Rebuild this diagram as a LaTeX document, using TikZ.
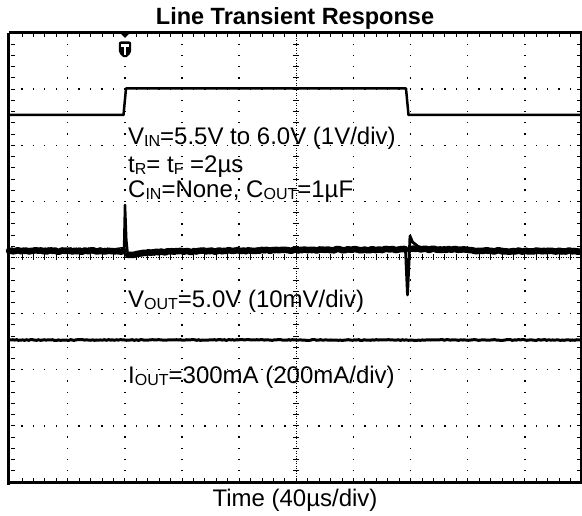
\documentclass[tikz,border=0pt]{standalone}
\usepackage{fontspec}
\setmainfont{Liberation Sans}
\usetikzlibrary{decorations.pathmorphing}
\newcommand\lsub[1]{\raisebox{-2pt}{\fontsize{16}{16}\selectfont #1}}
\begin{document}
\begin{tikzpicture}[x=1pt,y=-1pt,
  lbl/.style={inner sep=0pt,anchor=base west,font=\fontsize{24}{28}\selectfont},
  ttl/.style={inner sep=0pt,anchor=base,font=\fontsize{23.5}{28}\selectfont\bfseries},
  trace/.style={line width=2.5pt,line join=round},
  band/.style={line width=6.5pt,line join=round,line cap=round,decorate,decoration={random steps,segment length=2pt,amplitude=0.7pt}},
  grass/.style={line width=0.7pt,line join=round,decorate,decoration={random steps,segment length=0.9pt,amplitude=3.2pt}},
  tick/.style={line width=0.8pt}]
\pgfmathsetseed{7}
\useasboundingbox (0,0) rectangle (582,516);
\def\L{10.5}\def\R{582}\def\T{33}\def\B{482}
\def\dx{57.15}\def\dy{56.125}
% dotted grid
\foreach \i in {1,2,3,4,6,7,8,9}{
  \foreach \k in {1,...,39}{
    \fill (\L+\i*\dx-0.7,\T+\k*\dy/5-0.7) rectangle ++(1.4,1.4);}}
\foreach \j in {1,2,3,5,6,7}{
  \foreach \k in {1,...,49}{
    \fill (\L+\k*\dx/5-0.7,\T+\j*\dy-0.7) rectangle ++(1.4,1.4);}}
% centre axes
\draw[line width=1pt,dash pattern=on 1pt off 1.5pt] (\L+5*\dx,\T) -- (\L+5*\dx,\B);
\draw[line width=1pt,dash pattern=on 1pt off 1.5pt] (\L,\T+4*\dy) -- (\R,\T+4*\dy);
\foreach \k in {1,...,39}{
  \draw[tick] (\L+5*\dx-3,\T+\k*\dy/5) -- (\L+5*\dx+3,\T+\k*\dy/5);}
\foreach \k in {1,...,49}{
  \draw[tick] (\L+\k*\dx/5,\T+4*\dy-3) -- (\L+\k*\dx/5,\T+4*\dy+3);}
% frame ticks
\foreach \k in {1,...,49}{
  \draw[tick] (\L+\k*\dx/5,\T) -- ++(0,4);
  \draw[tick] (\L+\k*\dx/5,\B) -- ++(0,-4);}
\foreach \k in {1,...,39}{
  \draw[tick] (\L,\T+\k*\dy/5) -- ++(4,0);
  \draw[tick] (\R-1,\T+\k*\dy/5) -- ++(-4,0);}
% frame
\draw[line width=3pt] (8.5,\T) -- (\R,\T);
\draw[line width=3pt] (8.5,\T) -- (8.5,\B+2.5);
\draw[line width=1.5pt] (581,\T) -- (581,\B);
\draw[line width=3.6pt] (7,\B+0.5) -- (\R,\B+0.5);
% trigger marker
\fill (119,32) -- (131,32) -- (125,38) -- cycle;
\fill[rounded corners=2pt] (118.8,41.5) -- (131.2,41.5) -- (131.2,53) -- (125,58.5) -- (118.8,53) -- cycle;
\fill[white] (121,44) rectangle (129,47);
\fill[white] (123.6,47) rectangle (126.4,55);
% VIN trace
\draw[trace] (8.5,115) -- (123.5,115) -- (126,88.5) -- (406,88.5) -- (408.5,115) -- (\R,115);
% VOUT trace
\draw[band] (9,251) -- (123.5,251);
\draw[grass] (9,250.5) -- (123.5,250.5);
\draw[trace] (124,252) -- (125,205) -- (126.3,240) -- (128,257) -- (134,255);
\draw[band] (128,255) -- (145,253) -- (170,251.5) -- (300,250) -- (405.5,249.5);
\draw[grass] (128,255) -- (145,253) -- (170,251.5) -- (300,250) -- (405.5,249.5);
\draw[line width=2.8pt,line join=round] (405.5,250) -- (407.5,295) -- (409,262) -- (410,236) -- (412.5,242) -- (420,248);
\draw[band] (412,249) -- (460,249.5) -- (480,251) -- (\R,251);
\draw[grass] (414,249) -- (460,249.5) -- (480,251) -- (\R,251);
% IOUT trace
\draw[line width=3pt,decorate,decoration={random steps,segment length=2pt,amplitude=0.4pt}] (8.5,340) -- (\R,340);
% texts
\node[ttl] (title) at (295,25) {Line Transient Response};
\node[lbl] (vin) at (128,145) {V\lsub{IN}=5.5V to 6.0V (1V/div)};
\node[lbl] (tr) at (128,173) {t\lsub{R}= t\lsub{F} =2µs};
\node[lbl] (cin) at (128,198) {C\lsub{IN}=None, C\lsub{OUT}=1µF};
\node[lbl] (vout) at (128,308) {V\lsub{OUT}=5.0V (10mV/div)};
\node[lbl] (iout) at (128,383) {I\lsub{OUT}=300mA (200mA/div)};
\node[lbl,anchor=base] (time) at (295,506.5) {Time (40µs/div)};
\end{tikzpicture}
\end{document}
